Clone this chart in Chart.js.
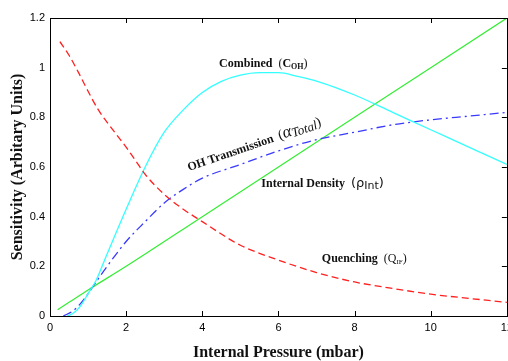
<!DOCTYPE html>
<html>
<head>
<meta charset="utf-8">
<script src="https://cdn.jsdelivr.net/npm/chart.js@4.4.1/dist/chart.umd.min.js"></script>
<style>
  html, body { margin: 0; padding: 0; background: #fff; overflow: hidden; }
  #wrap { position: relative; width: 518px; height: 361px; }
</style>
</head>
<body>
<div id="wrap"><canvas id="chart"></canvas></div>
<script>
// values
const quenchP = [0.26, 0.5, 0.75, 1, 1.25, 1.5, 1.75, 2, 2.25, 2.5, 3, 3.5, 4, 4.5, 5, 6, 7, 8, 9, 10, 11, 12];
const quenching = [1.105, 1.05, 0.98, 0.905, 0.835, 0.78, 0.73, 0.68, 0.625, 0.57, 0.49, 0.43, 0.38, 0.33, 0.285, 0.225, 0.175, 0.137, 0.111, 0.088, 0.071, 0.055];

const combinedP = [0.45, 0.6, 0.8, 1, 1.2, 1.5, 2, 2.5, 3, 3.5, 4, 4.5, 5, 5.5, 6, 6.5, 7, 8, 9, 10, 11, 12];
const combined = [0, 0.01, 0.04, 0.09, 0.14, 0.25, 0.43, 0.6, 0.74, 0.83, 0.9, 0.945, 0.97, 0.98, 0.98, 0.965, 0.946, 0.89, 0.82, 0.75, 0.68, 0.61];

const transP = [0.35, 0.6, 0.8, 1, 1.2, 1.5, 2, 2.5, 3, 3.5, 4, 5, 6, 7, 8, 9, 10, 11, 12];
const transmission = [0, 0.02, 0.05, 0.09, 0.135, 0.2, 0.3, 0.38, 0.455, 0.51, 0.555, 0.61, 0.665, 0.71, 0.74, 0.77, 0.79, 0.805, 0.82];

const densityP = [0.2, 0.5, 1, 2, 4, 6, 8, 10, 12];
const density = [0.025, 0.055, 0.105, 0.2, 0.4, 0.6, 0.8, 1.0, 1.2];

const xTicks = [0, 2, 4, 6, 8, 10, 12];
const yTicks = [0, 0.2, 0.4, 0.6, 0.8, 1, 1.2];

function pts(xs, ys) {
    return xs.map((x, i) => ({ x: x, y: ys[i] }));
}

const SERIF = '"Liberation Serif", "Times New Roman", serif';
const SANS = '"Liberation Sans", Arial, sans-serif';

// curve labels, placed in data coordinates
const labels = [
    { x: 4.44, y: 1.003, rot: 0, parts: [
        { t: 'Combined  ', f: 'bold 12px ' + SERIF },
        { t: '(', f: '12px ' + SERIF },
        { t: 'C', f: 'bold 12px ' + SERIF },
        { t: 'OH', f: 'bold 8px ' + SERIF, dy: 2 },
        { t: ')', f: '12px ' + SERIF }
    ]},
    { x: 3.65, y: 0.584, rot: -19, parts: [
        { t: 'OH Transmission  ', f: 'bold 12px ' + SERIF },
        { t: '(', f: '14px ' + SERIF },
        { t: 'α', f: 'italic 17px ' + SERIF },
        { t: 'Total', f: 'italic 13px ' + SERIF, dy: 2 },
        { t: ')', f: '14px ' + SERIF }
    ]},
    { x: 5.55, y: 0.52, rot: 0, parts: [
        { t: 'Internal Density  ', f: 'bold 12px ' + SERIF },
        { t: '(ρ', f: '13px "DejaVu Sans", sans-serif' },
        { t: 'Int', f: '11px "DejaVu Sans", sans-serif', dy: 2 },
        { t: ')', f: '13px "DejaVu Sans", sans-serif' }
    ]},
    { x: 7.14, y: 0.217, rot: 0, parts: [
        { t: 'Quenching  ', f: 'bold 12px ' + SERIF },
        { t: '(Q', f: '12px ' + SERIF },
        { t: 'IF', f: '7px ' + SERIF, dy: 2 },
        { t: ')', f: '12px ' + SERIF }
    ]}
];

// frame round the plot, ticks pointing inward, curve labels
const framePlugin = {
    id: 'frame',
    afterDraw(chart) {
        const ctx = chart.ctx;
        const a = chart.chartArea;
        const xs = chart.scales.x, ys = chart.scales.y;
        ctx.save();
        ctx.strokeStyle = '#000';
        ctx.lineWidth = 1;
        ctx.strokeRect(Math.round(a.left) + 0.5, Math.round(a.top) + 0.5,
            Math.round(a.right - a.left), Math.round(a.bottom - a.top));
        ctx.beginPath();
        xTicks.slice(1, -1).forEach(v => {
            const px = Math.round(xs.getPixelForValue(v)) + 0.5;
            ctx.moveTo(px, a.bottom); ctx.lineTo(px, a.bottom - 5);
            ctx.moveTo(px, a.top); ctx.lineTo(px, a.top + 5);
        });
        yTicks.slice(1, -1).forEach(v => {
            const py = Math.round(ys.getPixelForValue(v)) + 0.5;
            ctx.moveTo(a.right, py); ctx.lineTo(a.right - 5, py);
        });
        ctx.stroke();

        ctx.fillStyle = '#111';
        ctx.textBaseline = 'alphabetic';
        labels.forEach(l => {
            ctx.save();
            ctx.translate(xs.getPixelForValue(l.x), ys.getPixelForValue(l.y));
            ctx.rotate(l.rot * Math.PI / 180);
            let cx = 0;
            l.parts.forEach(p => {
                ctx.font = p.f;
                ctx.fillText(p.t, cx, p.dy || 0);
                cx += ctx.measureText(p.t).width;
            });
            ctx.restore();
        });
        ctx.restore();
    }
};

new Chart(document.getElementById('chart'), {
    type: 'scatter',
    data: {
        datasets: [
            { label: 'Quenching', data: pts(quenchP, quenching), borderColor: '#ff2020',
              borderDash: [7, 4], borderWidth: 1.3 },
            { label: 'Combined', data: pts(combinedP, combined), borderColor: '#33ffff',
              borderWidth: 1.3 },
            { label: 'OH Transmission', data: pts(transP, transmission), borderColor: '#3a3aff',
              borderDash: [9, 4, 2, 4], borderWidth: 1.3 },
            { label: 'Internal Density', data: pts(densityP, density), borderColor: '#33ee33',
              borderWidth: 1.2 }
        ].map(d => Object.assign(d, { showLine: true, pointRadius: 0, cubicInterpolationMode: 'monotone', fill: false }))
    },
    options: {
        animation: false,
        responsive: true,
        maintainAspectRatio: false,
        layout: { padding: { top: 18, right: 0, left: 0, bottom: 0 } },
        plugins: { legend: { display: false }, tooltip: { enabled: false } },
        scales: {
            x: {
                type: 'linear', min: 0, max: 12,
                afterBuildTicks: s => { s.ticks = xTicks.map(v => ({ value: v })); },
                afterFit: s => { s.height = 45; },
                grid: { display: false, drawTicks: false },
                border: { display: false },
                ticks: { color: '#000', font: { family: SANS, size: 11 }, padding: 5, maxRotation: 0,
                         callback: v => String(v) },
                title: { display: true, text: 'Internal Pressure (mbar)', color: '#111',
                         font: { family: SERIF, size: 16, weight: 'bold' }, padding: { top: 0, bottom: -1 } }
            },
            y: {
                type: 'linear', min: 0, max: 1.2,
                afterBuildTicks: s => { s.ticks = yTicks.map(v => ({ value: v })); },
                afterFit: s => { s.width = 50; },
                grid: { display: false, drawTicks: false },
                border: { display: false },
                ticks: { color: '#000', font: { family: SANS, size: 11 }, padding: 5,
                         callback: v => String(v) },
                title: { display: true, text: 'Sensitivity (Arbitary Units)', color: '#111',
                         font: { family: SERIF, size: 16, weight: 'bold' }, padding: { top: 8, bottom: 0 } }
            }
        }
    },
    plugins: [framePlugin]
});
</script>
</body>
</html>
